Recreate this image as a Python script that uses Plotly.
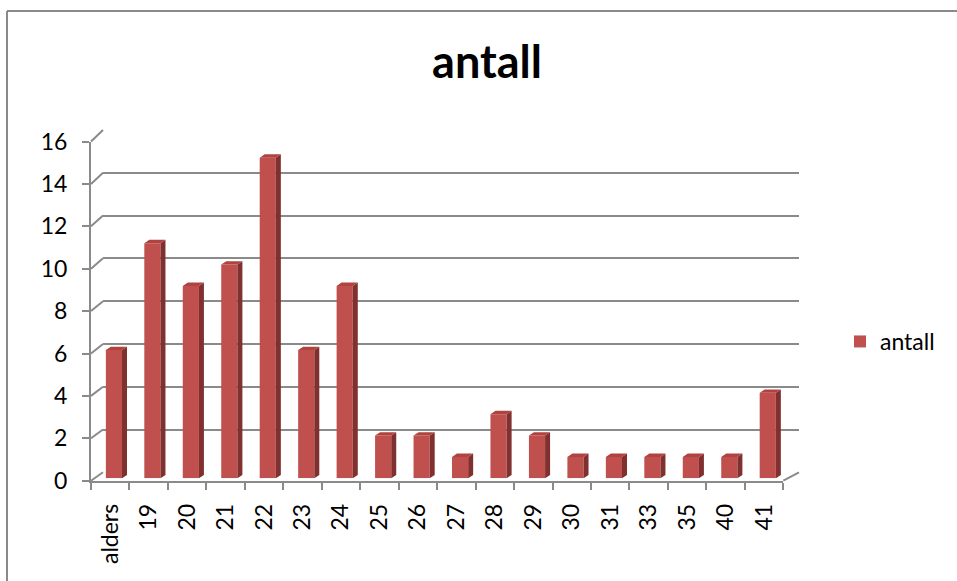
import plotly.graph_objects as go

# Age groups and their counts
ages = ["alders", "19", "20", "21", "22", "23", "24", "25", "26", "27",
        "28", "29", "30", "31", "33", "35", "40", "41"]
counts = [6, 11, 9, 10, 15, 6, 9, 2, 2, 1, 3, 2, 1, 1, 1, 1, 1, 4]
y_ticks = [0, 2, 4, 6, 8, 10, 12, 14, 16]

W, H = 957, 581
FONT = "Lato"
GRID = "#8a8a8a"
FRONT = "#C0504D"
SIDE = "#80312F"
TOP = "#B0423F"


def px_x(p):
    return p / W


def px_y(p):
    return 1 - p / H


# pixel geometry of the pseudo-3D box
F_LEFT, F_RIGHT, F_BOT, F_TOP = 91, 783.3, 480.7, 141.5      # front axis plane
B_LEFT, B_RIGHT, B_BOT, B_TOP = 103, 799, 472.3, 130          # back wall
BAR_DX, BAR_BOT, BAR_TOP = 3.7, 478.3, 136.4                  # bar plane
YMAX = 16

n = len(ages)
xs = list(range(n))
bar_w = 0.42
depth_x = 0.13     # side face depth in category units
depth_y = 0.16     # top face depth in value units

fig = go.Figure()

# front axes: ticks and labels
fig.add_trace(go.Scatter(x=ages, y=counts, mode="markers", marker=dict(opacity=0),
                         showlegend=False, hoverinfo="skip", xaxis="x", yaxis="y"))
# back wall: gridlines
fig.add_trace(go.Scatter(x=xs, y=counts, mode="markers", marker=dict(opacity=0),
                         showlegend=False, hoverinfo="skip", xaxis="x2", yaxis="y2"))

# column side and top faces
sx, sy, tx, ty = [], [], [], []
for x, v in zip(xs, counts):
    r = x + bar_w / 2
    l = x - bar_w / 2
    sx += [r, r + depth_x, r + depth_x, r, r, None]
    sy += [0, depth_y, v + depth_y, v, 0, None]
    tx += [l, r, r + depth_x, l + depth_x, l, None]
    ty += [v, v, v + depth_y, v + depth_y, v, None]

fig.add_trace(go.Scatter(x=sx, y=sy, fill="toself", fillcolor=SIDE, mode="lines",
                         line=dict(width=0, color=SIDE), showlegend=False,
                         hoverinfo="skip", xaxis="x3", yaxis="y3"))
fig.add_trace(go.Scatter(x=tx, y=ty, fill="toself", fillcolor=TOP, mode="lines",
                         line=dict(width=0, color=TOP), showlegend=False,
                         hoverinfo="skip", xaxis="x3", yaxis="y3"))
fig.add_trace(go.Bar(x=xs, y=counts, width=bar_w, name="antall",
                     marker=dict(color=FRONT, line=dict(width=0)),
                     xaxis="x3", yaxis="y3"))

# slanted connectors from front ticks to back gridlines, plus floor edge
shapes = []
for v in y_ticks:
    yf = F_BOT - v * (F_BOT - F_TOP) / YMAX
    yb = B_BOT - v * (B_BOT - B_TOP) / YMAX
    shapes.append(dict(type="line", xref="paper", yref="paper",
                       x0=px_x(F_LEFT), y0=px_y(yf), x1=px_x(B_LEFT), y1=px_y(yb),
                       line=dict(color=GRID, width=2), layer="below"))
shapes.append(dict(type="line", xref="paper", yref="paper",
                   x0=px_x(F_RIGHT), y0=px_y(F_BOT), x1=px_x(B_RIGHT), y1=px_y(B_BOT),
                   line=dict(color=GRID, width=2), layer="below"))
# chart frame (top and left edges)
shapes.append(dict(type="line", xref="paper", yref="paper",
                   x0=px_x(7), y0=px_y(11), x1=1, y1=px_y(11),
                   line=dict(color=GRID, width=2), layer="below"))
shapes.append(dict(type="line", xref="paper", yref="paper",
                   x0=px_x(7), y0=px_y(11), x1=px_x(7), y1=0,
                   line=dict(color=GRID, width=2), layer="below"))

fig.update_layout(
    width=W, height=H,
    margin=dict(l=0, r=0, t=0, b=0, pad=0, autoexpand=False),
    paper_bgcolor="white", plot_bgcolor="rgba(0,0,0,0)",
    font=dict(family=FONT, size=23, color="black"),
    title=dict(text="<b>antall</b>", x=px_x(487), xanchor="center",
               y=px_y(62), yanchor="middle", yref="paper",
               font=dict(family=FONT, size=45, color="black")),
    showlegend=True,
    legend=dict(x=px_x(840), y=px_y(341.5), xanchor="left", yanchor="middle",
                font=dict(family=FONT, size=23, color="black"),
                bgcolor="rgba(0,0,0,0)"),
    shapes=shapes,
    xaxis=dict(domain=[px_x(F_LEFT), px_x(F_RIGHT)], anchor="y", type="category",
               categoryorder="array", categoryarray=ages, range=[-0.5, n - 0.5],
               tickson="boundaries", ticks="outside", ticklen=7, tickwidth=2,
               tickcolor=GRID, showline=True, linecolor=GRID, linewidth=2,
               showgrid=False, zeroline=False, tickangle=-90, automargin=False,
               ticklabelstandoff=12, tickfont=dict(family=FONT, size=23)),
    yaxis=dict(domain=[px_y(F_BOT), px_y(F_TOP)], anchor="x", range=[0, YMAX],
               tickvals=y_ticks, ticks="outside", ticklen=7, tickwidth=2,
               tickcolor=GRID, showline=True, linecolor=GRID, linewidth=2,
               showgrid=False, zeroline=False, ticklabelstandoff=10, automargin=False,
               tickfont=dict(family=FONT, size=23)),
    xaxis2=dict(domain=[px_x(B_LEFT), px_x(B_RIGHT)], anchor="y2", range=[-0.5, n - 0.5],
                visible=False, automargin=False),
    yaxis2=dict(domain=[px_y(B_BOT), px_y(B_TOP)], anchor="x2", range=[0, YMAX],
                tickvals=y_ticks, showgrid=True, gridcolor=GRID, gridwidth=2,
                showticklabels=False, ticks="", showline=False, zeroline=False,
                automargin=False),
    xaxis3=dict(domain=[px_x(F_LEFT + BAR_DX), px_x(F_RIGHT + BAR_DX)], anchor="y3",
                range=[-0.5, n - 0.5], visible=False, automargin=False),
    yaxis3=dict(domain=[px_y(BAR_BOT), px_y(BAR_TOP)], anchor="x3", range=[0, YMAX],
                visible=False, automargin=False),
)

fig.write_html("out.html")
